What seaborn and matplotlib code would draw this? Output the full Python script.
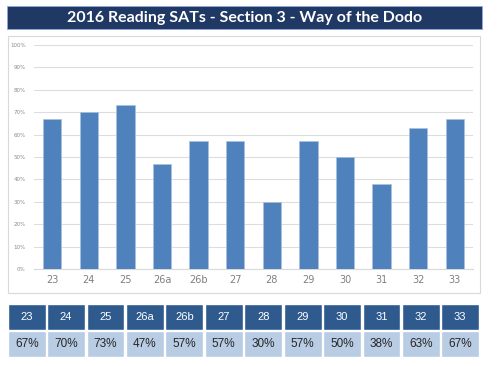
import matplotlib
matplotlib.use('Agg')
import matplotlib.pyplot as plt
from matplotlib.patches import Rectangle
import seaborn as sns
import pandas as pd

questions = ['23', '24', '25', '26a', '26b', '27', '28', '29', '30', '31', '32', '33']
scores = [67, 70, 73, 47, 57, 57, 30, 57, 50, 38, 63, 67]
y_ticks = [0, 10, 20, 30, 40, 50, 60, 70, 80, 90, 100]

df = pd.DataFrame({'Question': questions, 'Score': scores})

sns.set_style('white')
fig = plt.figure(figsize=(5, 3.66), dpi=100)

# title banner
fig.patches.append(Rectangle((0.014, 0.921), 0.95, 0.063, transform=fig.transFigure,
                             facecolor='#1F3864', edgecolor='#8EA9DB', lw=0.6, zorder=-2))
fig.text(0.489, 0.952, '2016 Reading SATs - Section 3 - Way of the Dodo', ha='center', va='center',
         color='white', fontsize=11.5, fontweight='bold', family=['Lato', 'DejaVu Sans'])

# chart panel
fig.patches.append(Rectangle((0.016, 0.199), 0.944, 0.702, transform=fig.transFigure,
                             facecolor='white', edgecolor='#D9D9D9', lw=0.8, zorder=-2))

ax = fig.add_axes([0.068, 0.265, 0.878, 0.612])
ax.set_facecolor('none')
sns.barplot(data=df, x='Question', y='Score', color='#4F81BD', saturation=1, width=0.5, ax=ax,
            edgecolor='#A9C1E0', linewidth=0.5, zorder=3)
ax.set_ylim(0, 100)
ax.set_xlim(-0.5, len(questions) - 0.5)
ax.set_yticks(y_ticks)
ax.set_yticklabels([f'{t}%' for t in y_ticks], fontsize=4, color='#8C8C8C')
ax.tick_params(axis='x', labelsize=7, colors='#7F7F7F', length=0, pad=4)
ax.tick_params(axis='y', length=0, pad=6)
ax.grid(axis='y', color='#DDDDDD', lw=0.8, zorder=0)
ax.set_axisbelow(True)
for s in ['top', 'right', 'left']:
    ax.spines[s].set_visible(False)
ax.spines['bottom'].set_color('#D9D9D9')
ax.set_xlabel('')
ax.set_ylabel('')

# data table below
tab = fig.add_axes([0.014, 0.0246, 0.946, 0.145])
pos = list(range(len(questions)))
tab.bar(pos, [1] * len(pos), bottom=1, width=0.96, color='#2F5A8E')
tab.bar(pos, [0.97] * len(pos), bottom=0, width=0.96, color='#B8CCE4')
for i, (q, v) in enumerate(zip(questions, scores)):
    tab.text(i, 1.5, q, ha='center', va='center', color='white', fontsize=8,
             family=['Liberation Sans', 'DejaVu Sans'])
    tab.text(i, 0.48, f'{v}%', ha='center', va='center', color='#262626', fontsize=8.5,
             family=['Liberation Sans', 'DejaVu Sans'])
tab.set_xlim(-0.5, len(questions) - 0.5)
tab.set_ylim(0, 2)
tab.axis('off')

fig.savefig('out.png', dpi=100)
